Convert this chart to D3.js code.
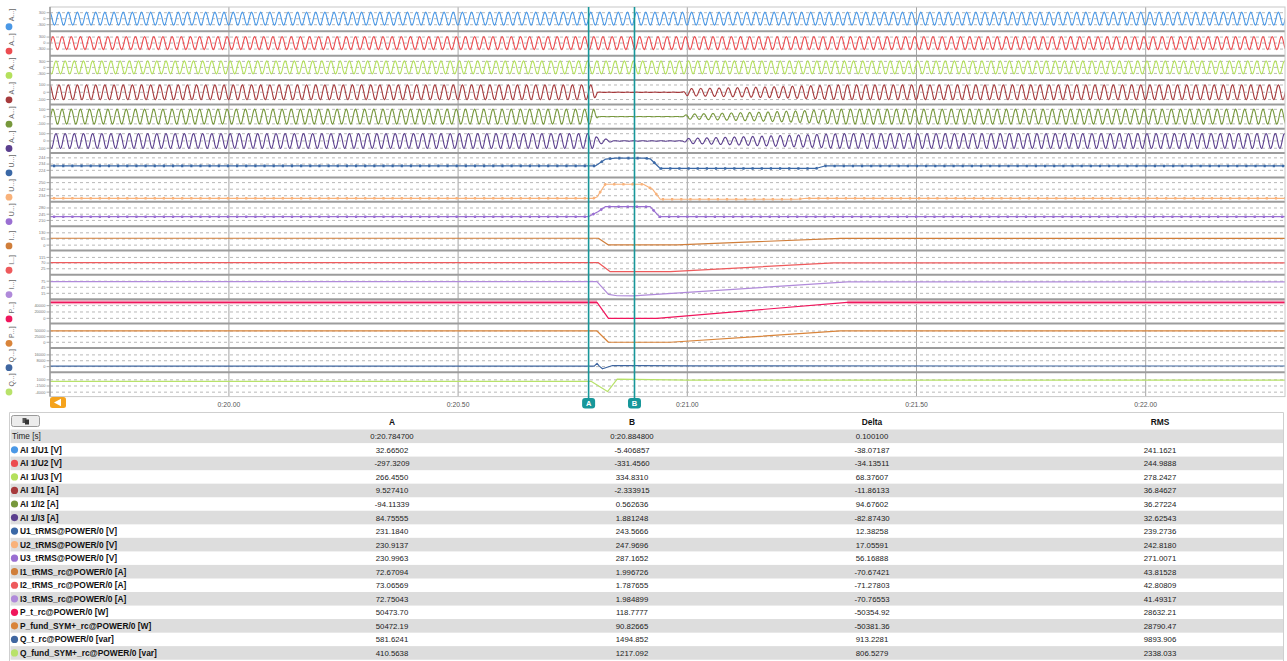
<!DOCTYPE html>
<html>
<head>
<meta charset="utf-8">
<script src="https://cdn.jsdelivr.net/npm/d3@7"></script>
<style>
body { margin: 0; background: #fff; }
svg { display: block; font-family: "Liberation Sans", Arial, sans-serif; }
</style>
</head>
<body>
<svg id="chart" width="1287" height="661"></svg>
<script>
// ---- time axis ----
var timeDomain = [19.6097, 22.3039];
var timeTicks = [20.0, 20.5, 21.0, 21.5, 22.0];
var timeTickLabels = ["0:20.00", "0:20.50", "0:21.00", "0:21.50", "0:22.00"];
var cursorA = 20.7847, cursorB = 20.8848;

// ---- strips (top to bottom) ----
var stripLabels = ["A...]", "A...]", "A...]", "A...]", "A...]", "A...]",
  "U...]", "U...]", "U...]", "I...]", "I...]", "I...]", "P...]", "P...]", "Q...]", "Q...]"];
var stripColors = ["#4a98e6", "#ec4c50", "#b4e05c", "#a63a3c", "#77983c", "#5b3f8e",
  "#3a68a6", "#f9b27a", "#9a6fd2", "#d07e3a", "#ee5a5c", "#b08ada",
  "#f0165c", "#d9843a", "#3f66a0", "#b8e26a"];
var stripDomains = [
  [-632, 585], [-632, 585], [-632, 585],
  [-167, 168], [-167, 168], [-167, 168],
  [212.6, 251.6], [226.6, 256.3], [177.9, 314.7],
  [-56.6, 200.3], [-23.1, 169.7], [-14.1, 106.4],
  [-16400, 60230], [-25100, 83460], [-7735, 25576], [-5809, 4089]
];
var stripTicks = [
  [300, 0, -300], [300, 0, -300], [300, 0, -300],
  [100, 0, -100], [100, 0, -100], [100, 0, -100],
  [244, 234, 224], [250, 242, 234], [280, 245, 210],
  [130, 65, 0], [115, 70, 25], [75, 45, 15],
  [40000, 20000, 0], [50000, 25000, 0], [16000, 8000, 0], [1000, -1500, -4000]
];

// ---- raw waveforms: one sampled 50 Hz cycle, phase at cursor A, peak envelopes [t, peak] ----
var cycleShape = [0, 0.5, 0.87, 1, 0.87, 0.5, 0, -0.5, -0.87, -1, -0.87, -0.5];
var waveFreq = 50;
var wavePhaseAtA = [6, -114, 126, 6, -114, 126];
var u1Env = [[19.6097, 325], [22.3039, 325]];
var u2Env = [[19.6097, 325], [22.3039, 325]];
var u3Env = [[19.6097, 325], [22.3039, 325]];
var i1Env = [[19.6097, 103], [20.796, 103], [20.802, 40], [20.806, 2], [20.99, 2], [21.0, 50], [21.15, 70], [21.34, 103], [22.3039, 103]];
var i2Env = [[19.6097, 103], [20.796, 103], [20.802, 40], [20.806, 2], [20.99, 2], [21.0, 35], [21.15, 60], [21.34, 103], [22.3039, 103]];
var i3Env = [[19.6097, 103], [20.796, 103], [20.803, 50], [20.825, 25], [20.842, 3], [20.99, 3], [21.0, 35], [21.15, 65], [21.34, 103], [22.3039, 103]];

// ---- computed channels [t, value] ----
var u1Rms = [[19.6097, 231.2], [20.800, 231.2], [20.822, 242.0], [20.843, 243.6], [20.905, 243.6], [20.919, 242.5], [20.941, 227.0], [21.28, 227.0], [21.30, 231.0], [22.3039, 231.0]];
var u2Rms = [[19.6097, 230.9], [20.795, 230.9], [20.803, 232.5], [20.821, 248.0], [20.904, 248.0], [20.924, 242.0], [20.941, 229.7], [21.24, 229.7], [21.26, 230.9], [22.3039, 230.9]];
var u3Rms = [[19.6097, 231.0], [20.784, 231.0], [20.806, 260.0], [20.821, 287.2], [20.919, 287.2], [20.939, 231.0], [22.3039, 231.0]];
var i1Rms = [[19.6097, 72.7], [20.806, 72.7], [20.828, 2.0], [20.978, 2.0], [21.334, 72.0], [22.3039, 72.0]];
var i2Rms = [[19.6097, 73.1], [20.806, 73.1], [20.832, 1.8], [20.963, 1.8], [21.319, 72.0], [22.3039, 72.0]];
var i3Rms = [[19.6097, 72.8], [20.803, 72.8], [20.828, 10.0], [20.847, 3.0], [20.882, 2.0], [21.349, 72.0], [22.3039, 72.0]];
var pTotal = [[19.6097, 50474], [20.803, 50474], [20.828, 120], [20.934, 120], [21.349, 50400], [22.3039, 50400]];
var pFund = [[19.6097, 50472], [20.803, 50472], [20.828, 91], [20.963, 91], [21.334, 50400], [22.3039, 50400]];
var qTotal = [[19.6097, 580], [20.797, 580], [20.803, 4500], [20.808, 600], [20.815, -3000], [20.837, 1500], [20.90, 1400], [21.0, 900], [22.3039, 800]];
var qFund = [[19.6097, 410], [20.790, 410], [20.826, -3750], [20.847, 1280], [20.884, 1217], [21.0, 900], [22.3039, 900]];
var pTotalBand = [[19.6097, 20.803], [21.349, 22.3039]];
var markerStrips = [6, 7, 8];

// ---- cursor table ----
var tableCols = ["A", "B", "Delta", "RMS"];
var timeRow = ["0:20.784700", "0:20.884800", "0.100100", ""];
var rowLabels = ["AI 1/U1 [V]", "AI 1/U2 [V]", "AI 1/U3 [V]", "AI 1/I1 [A]", "AI 1/I2 [A]", "AI 1/I3 [A]",
  "U1_tRMS@POWER/0 [V]", "U2_tRMS@POWER/0 [V]", "U3_tRMS@POWER/0 [V]",
  "I1_tRMS_rc@POWER/0 [A]", "I2_tRMS_rc@POWER/0 [A]", "I3_tRMS_rc@POWER/0 [A]",
  "P_t_rc@POWER/0 [W]", "P_fund_SYM+_rc@POWER/0 [W]", "Q_t_rc@POWER/0 [var]", "Q_fund_SYM+_rc@POWER/0 [var]"];
var valuesA = ["32.66502", "-297.3209", "266.4550", "9.527410", "-94.11339", "84.75555", "231.1840", "230.9137", "230.9963",
  "72.67094", "73.06569", "72.75043", "50473.70", "50472.19", "581.6241", "410.5638"];
var valuesB = ["-5.406857", "-331.4560", "334.8310", "-2.333915", "0.562636", "1.881248", "243.5666", "247.9696", "287.1652",
  "1.996726", "1.787655", "1.984899", "118.7777", "90.82665", "1494.852", "1217.092"];
var valuesDelta = ["-38.07187", "-34.13511", "68.37607", "-11.86133", "94.67602", "-82.87430", "12.38258", "17.05591", "56.16888",
  "-70.67421", "-71.27803", "-70.76553", "-50354.92", "-50381.36", "913.2281", "806.5279"];
var valuesRMS = ["241.1621", "244.9888", "278.2427", "36.84627", "36.27224", "32.62543", "239.2736", "242.8180", "271.0071",
  "43.81528", "42.80809", "41.49317", "28632.21", "28790.47", "9893.906", "2338.033"];

var envs = [u1Env, u2Env, u3Env, i1Env, i2Env, i3Env];
var series = [null, null, null, null, null, null, u1Rms, u2Rms, u3Rms, i1Rms, i2Rms, i3Rms, pTotal, pFund, qTotal, qFund];

function waveSeries(env, phaseDeg) {
  var n = cycleShape.length;
  var step = 1 / waveFreq / n;
  var t0 = cursorA - phaseDeg / 360 / waveFreq;
  var amp = d3.scaleLinear().domain(env.map(function(d){ return d[0]; }))
    .range(env.map(function(d){ return d[1]; })).clamp(true);
  var j0 = Math.floor((timeDomain[0] - t0) / step) - 1;
  var j1 = Math.ceil((timeDomain[1] - t0) / step) + 1;
  var pts = [];
  for (var j = j0; j <= j1; j++) {
    var t = t0 + j * step;
    pts.push([t, amp(t) * cycleShape[((j % n) + n) % n]]);
  }
  return pts;
}

var svg = d3.select("#chart");
var plotL = 50, plotR = 1285, plotT = 7, stripH = 24.35;
var plotB = plotT + stripH * stripLabels.length;
var x = d3.scaleLinear().domain(timeDomain).range([plotL, plotR]);

svg.append("defs").append("clipPath").attr("id", "plotclip")
  .append("rect").attr("x", plotL).attr("y", plotT).attr("width", plotR - plotL).attr("height", plotB - plotT);

// vertical grid
svg.append("g").selectAll("line").data(timeTicks).enter().append("line")
  .attr("x1", function(d){ return x(d); }).attr("x2", function(d){ return x(d); })
  .attr("y1", plotT).attr("y2", plotB)
  .attr("stroke", "#a4a4a4").attr("stroke-width", 1);

var plotG = svg.append("g").attr("clip-path", "url(#plotclip)");

stripLabels.forEach(function(lbl, i) {
  var top = plotT + i * stripH;
  var y = d3.scaleLinear().domain(stripDomains[i]).range([top + stripH, top]);
  var g = plotG.append("g");

  // dashed grid
  g.selectAll("line.grid").data(stripTicks[i]).enter().append("line")
    .attr("class", "grid")
    .attr("x1", plotL).attr("x2", plotR)
    .attr("y1", function(d){ return y(d); }).attr("y2", function(d){ return y(d); })
    .attr("stroke", "#b8b8b8").attr("stroke-width", 1).attr("stroke-dasharray", "3,3");

  var line = d3.line().x(function(d){ return x(d[0]); }).y(function(d){ return y(d[1]); });
  var data = i < 6 ? waveSeries(envs[i], wavePhaseAtA[i]) : series[i];

  if (i === 12) {
    pTotalBand.forEach(function(r) {
      var seg = data.filter(function(d){ return d[0] >= r[0] && d[0] <= r[1]; });
      g.append("path").attr("d", line(seg)).attr("fill", "none")
        .attr("stroke", "#f6a6bf").attr("stroke-width", 4);
    });
  }

  g.append("path").attr("d", line(data)).attr("fill", "none")
    .attr("stroke", stripColors[i]).attr("stroke-width", i < 6 ? 1.1 : 1.2)
    .attr("stroke-linejoin", "round");

  if (markerStrips.indexOf(i) >= 0) {
    g.append("path").attr("d", line(data)).attr("fill", "none")
      .attr("stroke", stripColors[i]).attr("stroke-width", 2.6)
      .attr("stroke-dasharray", "2.2,6.95").attr("stroke-dashoffset", -3);
  }

  // y tick labels
  var ax = svg.append("g");
  ax.selectAll("text").data(stripTicks[i]).enter().append("text")
    .attr("x", 45.5).attr("y", function(d){ return y(d) + 1.4; })
    .attr("text-anchor", "end").attr("font-size", 4).attr("fill", "#777")
    .text(function(d){ return d; });
  ax.selectAll("line").data(stripTicks[i]).enter().append("line")
    .attr("x1", 46.5).attr("x2", 50)
    .attr("y1", function(d){ return y(d); }).attr("y2", function(d){ return y(d); })
    .attr("stroke", "#999").attr("stroke-width", 0.8);

  // side legend
  svg.append("circle").attr("cx", 9).attr("cy", top + stripH - 4.6).attr("r", 3.4)
    .attr("fill", stripColors[i]);
  svg.append("text")
    .attr("transform", "translate(13.5," + (top + stripH - 10) + ") rotate(-90)")
    .attr("font-size", 7).attr("fill", "#666").text(lbl);
});

// strip separators
svg.append("g").selectAll("line").data(d3.range(1, stripLabels.length)).enter().append("line")
  .attr("x1", plotL).attr("x2", plotR)
  .attr("y1", function(d){ return plotT + d * stripH; }).attr("y2", function(d){ return plotT + d * stripH; })
  .attr("stroke", "#9c9c9c").attr("stroke-width", 2);

// frame
svg.append("rect").attr("x", plotL).attr("y", plotT).attr("width", plotR - plotL).attr("height", plotB - plotT)
  .attr("fill", "none").attr("stroke", "#c8c8c8").attr("stroke-width", 1);
svg.append("line").attr("x1", plotL).attr("x2", plotL).attr("y1", plotT).attr("y2", plotB)
  .attr("stroke", "#8a8a8a").attr("stroke-width", 1.2);

// time labels
svg.append("g").selectAll("text").data(timeTicks).enter().append("text")
  .attr("x", function(d){ return x(d); }).attr("y", 406.5)
  .attr("text-anchor", "middle").attr("font-size", 6.8).attr("fill", "#555")
  .text(function(d, k){ return timeTickLabels[k]; });

// scroll button
svg.append("rect").attr("x", 50).attr("y", 397).attr("width", 16).attr("height", 11).attr("rx", 2.5)
  .attr("fill", "#f5a31c");
svg.append("path").attr("d", "M54,402.5 L61,398.8 L61,406.2 Z").attr("fill", "#fff");

// cursors
[[cursorA, "A"], [cursorB, "B"]].forEach(function(c) {
  var cx = x(c[0]);
  svg.append("line").attr("x1", cx).attr("x2", cx).attr("y1", plotT).attr("y2", 399)
    .attr("stroke", "#17979a").attr("stroke-width", 1.6);
  svg.append("rect").attr("x", cx - 6.5).attr("y", 398).attr("width", 13).attr("height", 10.5).attr("rx", 3)
    .attr("fill", "#17979a");
  svg.append("text").attr("x", cx).attr("y", 406.2).attr("text-anchor", "middle")
    .attr("font-size", 7.5).attr("font-weight", "bold").attr("fill", "#fff").text(c[1]);
});

// ---- table ----
var tb = svg.append("g");
var colX = [392, 632, 872, 1160];
var rowY0 = 436.3, rowStep = 13.54;
tb.append("path").attr("d", "M9.5,661 L9.5,412.5 L1283.5,412.5 L1283.5,661")
  .attr("fill", "none").attr("stroke", "#cfcfcf");
var allRows = d3.range(rowLabels.length + 1);
tb.selectAll("rect.band").data(allRows.filter(function(r){ return r % 2 === 0; })).enter().append("rect")
  .attr("class", "band").attr("x", 10.5).attr("width", 1272.5)
  .attr("y", function(r){ return rowY0 + r * rowStep - 6.8; }).attr("height", 13.6)
  .attr("fill", "#dddddd");

// copy button
tb.append("rect").attr("x", 11.5).attr("y", 415.5).attr("width", 28).attr("height", 11).attr("rx", 2)
  .attr("fill", "#ececec").attr("stroke", "#9a9a9a");
tb.append("rect").attr("x", 22.5).attr("y", 418).attr("width", 4).attr("height", 5).attr("fill", "#555");
tb.append("rect").attr("x", 25).attr("y", 419.5).attr("width", 4).attr("height", 5).attr("fill", "#333");

tb.selectAll("text.head").data(tableCols).enter().append("text")
  .attr("class", "head").attr("x", function(d, k){ return colX[k]; }).attr("y", 425)
  .attr("text-anchor", "middle").attr("font-size", 8.4).attr("font-weight", "bold").attr("fill", "#111")
  .text(function(d){ return d; });

tb.append("text").attr("x", 12).attr("y", rowY0 + 3).attr("font-size", 8.2).attr("fill", "#222").text("Time [s]");
tb.selectAll("text.trow").data(timeRow).enter().append("text")
  .attr("class", "trow").attr("x", function(d, k){ return colX[k]; }).attr("y", rowY0 + 3)
  .attr("text-anchor", "middle").attr("font-size", 7.8).attr("fill", "#222").text(function(d){ return d; });

rowLabels.forEach(function(lbl, r) {
  var yc = rowY0 + (r + 1) * rowStep;
  tb.append("circle").attr("cx", 14.5).attr("cy", yc).attr("r", 3.6).attr("fill", stripColors[r]);
  tb.append("text").attr("x", 20).attr("y", yc + 3).attr("font-size", 8.4).attr("font-weight", "bold")
    .attr("fill", "#111").text(lbl);
  [valuesA[r], valuesB[r], valuesDelta[r], valuesRMS[r]].forEach(function(v, k) {
    tb.append("text").attr("x", colX[k]).attr("y", yc + 3).attr("text-anchor", "middle")
      .attr("font-size", 7.8).attr("fill", "#222").text(v);
  });
});
</script>
</body>
</html>
